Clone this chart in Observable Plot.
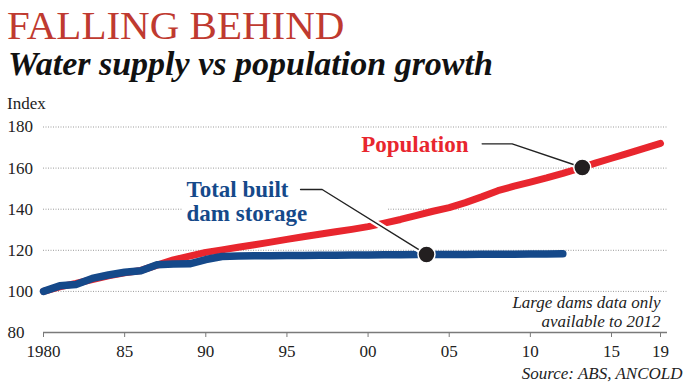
<!DOCTYPE html>
<html><head><meta charset="utf-8">
<script src="https://cdn.jsdelivr.net/npm/d3@7"></script>
<script src="https://cdn.jsdelivr.net/npm/@observablehq/plot@0.6"></script>
<style>
body{margin:0;background:#fff;}
#wrap{position:relative;width:692px;height:390px;overflow:hidden;font-family:"Liberation Serif",serif;}
#head{position:relative;height:112px;}
.t{position:absolute;white-space:nowrap;line-height:1;font-family:"Liberation Serif",serif;}
#chart svg{display:block;font-family:"Liberation Serif",serif;}
#chart svg text{font-family:"Liberation Serif",serif;}
</style></head><body>
<div id="wrap">
  <div id="head">
    <div class="t" style="left:7px;top:5px;font-size:41px;color:#bf3a30;">FALLING BEHIND</div>
    <div class="t" style="left:8px;top:46.5px;font-size:34px;color:#111;font-weight:bold;font-style:italic;">Water supply vs population growth</div>
    <div class="t" style="left:7px;top:95px;font-size:17px;color:#222;">Index</div>
  </div>
  <div id="chart"></div>
</div>
<script>
// ---- data ----
const popYears = [1980,1981,1982,1983,1984,1985,1986,1987,1988,1989,1990,1991,1992,1993,1994,1995,1996,1997,1998,1999,2000,2001,2002,2003,2004,2005,2006,2007,2008,2009,2010,2011,2012,2013,2014,2015,2016,2017,2018,2019];
const popValues = [100,102.2,103.9,105.8,107.6,109,110.2,112.8,115.3,117.2,119,120.2,121.5,122.7,124,125.3,126.6,127.8,129,130.2,131.5,133.2,135,137,139,140.8,143.2,146,149,151.2,153.2,155.2,157.4,159.8,162.4,164.8,166.6,168.4,170.2,172];
const damYears = [1980,1981,1982,1983,1984,1985,1986,1987,1988,1989,1990,1991,1992,1993,1994,1995,1996,1997,1998,1999,2000,2001,2002,2003,2004,2005,2006,2007,2008,2009,2010,2011,2012];
const damValues = [100,102.7,103.4,106.3,108,109.3,110,113,113.3,113.4,115.5,117,117.2,117.3,117.4,117.5,117.5,117.6,117.6,117.7,117.7,117.8,117.8,117.9,117.9,118,118,118.1,118.1,118.1,118.2,118.2,118.3];
const xTicks = [1980,1985,1990,1995,2000,2005,2010,2015,2019];
const xTickLabels = ["1980","85","90","95","00","05","10","15","19"];
const yTicks = [80,100,120,140,160,180];
const yGrid = [100,120,140,160,180];

const popRows = popYears.map((year,i)=>({year, value: popValues[i]}));
const damRows = damYears.map((year,i)=>({year, value: damValues[i]}));

// annotation anchors (data units)
const damLeader = [{x:1995.84,y:149.6},{x:1997.17,y:149.6},{x:2003.6,y:118}];
const popLeader = [{x:2007.03,y:171.8},{x:2008.88,y:171.8},{x:2013.2,y:160.3}];
const dots = [{x:2003.6,y:118},{x:2013.2,y:160.3}];

const RED = "#e8262e", BLUE = "#15498a";
const FONT = "Liberation Serif";

const chart = Plot.plot({
  width: 692, height: 278,
  marginLeft: 43, marginRight: 25, marginTop: 14.5, marginBottom: 58,
  x: {type: "linear", domain: [1980, 2015, 2019.57], range: [43, 611, 667], axis: null},
  y: {domain: [80, 180], axis: null},
  style: {fontFamily: FONT, background: "transparent", overflow: "visible"},
  marks: [
    Plot.gridY(yGrid, {stroke: "#9a9a9a", strokeOpacity: 1, strokeDasharray: "1,1.5", strokeWidth: 1}),
    Plot.rect([{x1: 1988.56, x2: 2001.26, y1: 138.5, y2: 142}], {x1: "x1", x2: "x2", y1: "y1", y2: "y2", fill: "white"}),
    Plot.ruleY([80], {stroke: "#7a7a7a", strokeWidth: 1.5}),
    Plot.axisX({ticks: xTicks, tickFormat: d => xTickLabels[xTicks.indexOf(d)], tickSize: 5, tickPadding: 7.5,
      fontSize: 17, fontFamily: FONT, stroke: "#7a7a7a", fill: "#222", label: null}),
    Plot.text(yTicks, {x: 1980, y: d => d, text: d => String(d), textAnchor: "start", dx: -36, fontSize: 17, fontFamily: FONT, fill: "#222"}),
    Plot.line(popRows, {x: "year", y: "value", stroke: RED, strokeWidth: 7, strokeLinecap: "round", strokeLinejoin: "round"}),
    Plot.line(damRows, {x: "year", y: "value", stroke: BLUE, strokeWidth: 7.5, strokeLinecap: "round", strokeLinejoin: "round"}),
    Plot.line(damLeader, {x: "x", y: "y", stroke: "white", strokeWidth: 6}),
    Plot.line(damLeader, {x: "x", y: "y", stroke: "#222", strokeWidth: 1.4}),
    Plot.line(popLeader, {x: "x", y: "y", stroke: "white", strokeWidth: 6}),
    Plot.line(popLeader, {x: "x", y: "y", stroke: "#222", strokeWidth: 1.4}),
    Plot.dot(dots, {x: "x", y: "y", r: 8.5, fill: "#231f20", stroke: "white", strokeWidth: 1.5}),
    Plot.text(["Population"], {x: 2006.19, y: 167.7, textAnchor: "end", lineAnchor: "bottom", fontSize: 23, fontFamily: FONT, fontWeight: "bold", fill: RED}),
    Plot.text(["Total built\ndam storage"], {x: 1988.81, y: 134.2, textAnchor: "start", lineAnchor: "bottom", lineHeight: 1.03, fontSize: 23, fontFamily: FONT, fontWeight: "bold", fill: BLUE}),
    Plot.text(["Large dams data only\navailable to 2012"], {x: 2019, y: 82.6, textAnchor: "end", lineAnchor: "bottom", lineHeight: 1.13, fontSize: 17, fontFamily: FONT, fontStyle: "italic", fill: "#222"}),
    Plot.text(["Source: ABS, ANCOLD"], {frameAnchor: "bottom-right", dx: 15, dy: 46, textAnchor: "end", lineAnchor: "bottom", fontSize: 17, fontFamily: FONT, fontStyle: "italic", fill: "#222"})
  ]
});
document.getElementById("chart").appendChild(chart);
</script>
</body></html>
